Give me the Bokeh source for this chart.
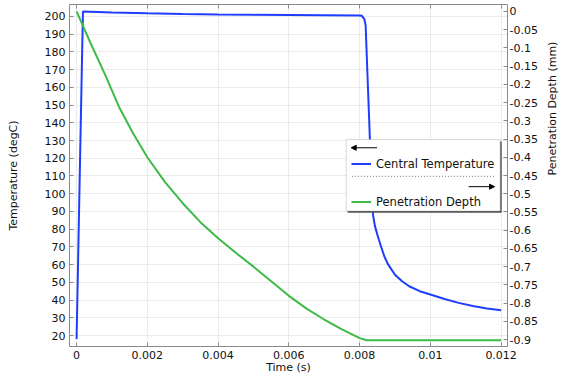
import math

from bokeh.plotting import figure
from bokeh.models import (Range1d, LinearAxis, FixedTicker, CustomJSTickFormatter,
                          Legend, LegendItem, Arrow, NormalHead, BoxAnnotation)
from bokeh.embed import file_html
from bokeh.resources import INLINE

# Central temperature (degC) over time (s)
temp_time = [0.0, 0.00018, 0.001, 0.002, 0.003, 0.004, 0.005, 0.006, 0.007, 0.008,
             0.00806, 0.00813, 0.00817, 0.00823, 0.00829, 0.00834, 0.00838, 0.00843,
             0.0085, 0.0086, 0.0087, 0.0088, 0.009, 0.0092, 0.0094, 0.0097, 0.01,
             0.0104, 0.0108, 0.0112, 0.0116, 0.012]
temp_vals = [18.0, 202.8, 202.3, 201.8, 201.4, 201.1, 200.9, 200.8, 200.7, 200.6,
             200.4, 198.7, 195.0, 163.0, 131.0, 100.0, 88.0, 82.0,
             77.0, 70.5, 64.6, 60.3, 54.3, 50.6, 47.8, 45.0, 43.1,
             40.6, 38.4, 36.6, 35.3, 34.2]

# Penetration depth (mm) over time (s)
depth_time = [0.0, 0.0004, 0.0008, 0.0012, 0.0016, 0.002, 0.0025, 0.003, 0.0035,
              0.004, 0.0045, 0.005, 0.0055, 0.006, 0.0065, 0.007, 0.0075, 0.008,
              0.0082, 0.009, 0.01, 0.011, 0.012]
depth_vals = [0.0, -0.088, -0.172, -0.262, -0.335, -0.400, -0.468, -0.526, -0.578,
              -0.622, -0.662, -0.700, -0.740, -0.780, -0.815, -0.845, -0.872, -0.896,
              -0.902, -0.902, -0.902, -0.902, -0.902]

x_ticks = [0.0, 0.002, 0.004, 0.006, 0.008, 0.01, 0.012]
temp_ticks = [20, 30, 40, 50, 60, 70, 80, 90, 100, 110, 120, 130, 140, 150,
              160, 170, 180, 190, 200]
depth_ticks = [0.0, -0.05, -0.1, -0.15, -0.2, -0.25, -0.3, -0.35, -0.4, -0.45,
               -0.5, -0.55, -0.6, -0.65, -0.7, -0.75, -0.8, -0.85, -0.9]

X0, X1 = -0.0002, 0.01218
Y0, Y1 = 13.8, 206.75
D0, D1 = -0.919, 0.019

FONT = "DejaVu Sans"
TXT = "#111111"
AXC = "#8a8a8a"
BLUE = "#1f3dff"
GREEN = "#3dbb48"

p = figure(width=568, height=376, output_backend="svg", toolbar_location=None,
           x_range=Range1d(X0, X1), y_range=Range1d(Y0, Y1),
           min_border_left=69, min_border_right=59, min_border_top=4,
           min_border_bottom=29)
p.outline_line_color = None
p.background_fill_color = "white"
p.extra_y_ranges = {"depth": Range1d(D0, D1)}

num_fmt = CustomJSTickFormatter(code="return String(Number(tick.toFixed(4)));")


def style_axis(ax, ticks, label=None, fmt=None):
    ax.ticker = FixedTicker(ticks=ticks)
    if fmt is not None:
        ax.formatter = fmt
    ax.axis_label = label
    ax.axis_label_text_font = FONT
    ax.axis_label_text_font_size = "11px"
    ax.axis_label_text_font_style = "normal"
    ax.axis_label_text_color = TXT
    ax.major_label_text_font = FONT
    ax.major_label_text_font_size = "11px"
    ax.major_label_text_color = TXT
    ax.axis_line_color = AXC
    ax.major_tick_line_color = AXC
    ax.major_tick_in = 4
    ax.major_tick_out = 0
    ax.minor_tick_line_color = None


xa = p.xaxis[0]
style_axis(xa, x_ticks, "Time (s)", num_fmt)
xa.major_label_standoff = 4
xa.axis_label_standoff = -1

ya = p.yaxis[0]
style_axis(ya, temp_ticks, "Temperature (degC)")
ya.major_label_standoff = 4
ya.axis_label_standoff = 22

ra = LinearAxis(y_range_name="depth")
style_axis(ra, depth_ticks, "Penetration Depth (mm)", num_fmt)
ra.major_label_standoff = 2
ra.axis_label_standoff = 12
ra.axis_label_orientation = math.pi / 2
ra.axis_label_text_line_height = 0.5
p.add_layout(ra, "right")

ta = LinearAxis()
style_axis(ta, x_ticks, None, CustomJSTickFormatter(code="return '';"))
ta.major_label_text_font_size = "1px"
ta.major_label_standoff = 0
p.add_layout(ta, "above")

p.xgrid.ticker = FixedTicker(ticks=x_ticks)
p.ygrid.ticker = FixedTicker(ticks=temp_ticks)
p.xgrid.grid_line_color = "#ebebeb"
p.ygrid.grid_line_color = "#ebebeb"

temp_line = p.line(temp_time, temp_vals, line_color=BLUE, line_width=2)
depth_line = p.line(depth_time, depth_vals, line_color=GREEN, line_width=2,
                    y_range_name="depth")


def sx(px):
    return X0 + (px - 69) / 440 * (X1 - X0)


def sy(py):
    return Y1 - (py - 4) / 343 * (Y1 - Y0)


# legend panel: drop shadow, white box, then direction markers and separator
p.add_layout(BoxAnnotation(left=sx(348.5), right=sx(503.2), top=sy(141.5),
                           bottom=sy(212.8), fill_color="#555555", fill_alpha=1.0,
                           line_color=None))
p.add_layout(BoxAnnotation(left=sx(347), right=sx(501.7), top=sy(139.5),
                           bottom=sy(211.2), fill_color="white", fill_alpha=1.0,
                           line_color="#7a7a7a", line_width=1))

head_l = NormalHead(size=5, fill_color="black", line_color="black")
head_r = NormalHead(size=5, fill_color="black", line_color="black")
p.add_layout(Arrow(x_start=sx(378), y_start=sy(147.7), x_end=sx(352), y_end=sy(147.7),
                   line_width=1, line_color="black", end=head_l))
p.add_layout(Arrow(x_start=sx(352.7), y_start=sy(176.3), x_end=sx(496.7), y_end=sy(176.3),
                   line_width=1, line_color="#777777", line_dash="1 2", end=None))
p.add_layout(Arrow(x_start=sx(470), y_start=sy(186.7), x_end=sx(496), y_end=sy(186.7),
                   line_width=1, line_color="black", end=head_r))

legend = Legend(items=[LegendItem(label="Central Temperature", renderers=[temp_line]),
                       LegendItem(label="Penetration Depth", renderers=[depth_line])],
                location="center_right", margin=10, padding=4, spacing=24,
                glyph_width=20, glyph_height=14, label_height=14, label_width=121,
                label_standoff=5, label_text_font=FONT, label_text_font_size="11.5px",
                label_text_color=TXT, title=" ", title_text_font_size="6px",
                title_standoff=9, border_line_color=None,
                background_fill_alpha=0.0)
p.add_layout(legend)

open("out.html", "w").write(file_html(p, INLINE))
